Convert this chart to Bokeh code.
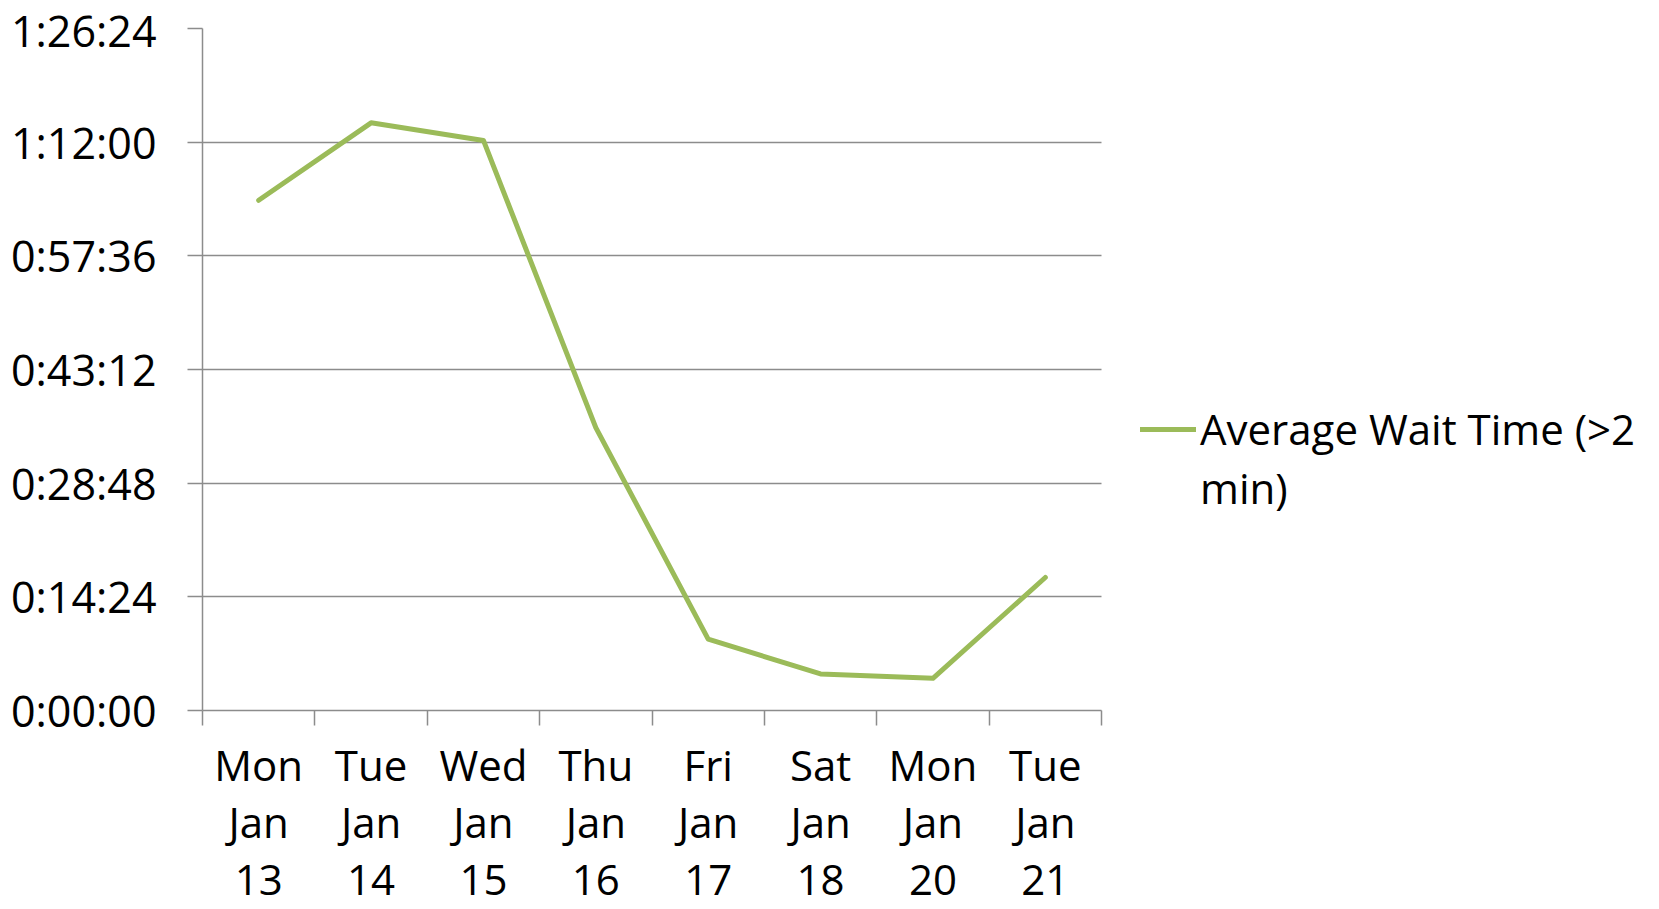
from bokeh.plotting import figure
from bokeh.models import FixedTicker, Legend, LegendItem, Range1d
from bokeh.embed import file_html
from bokeh.resources import INLINE

# Chart data
days = ["Mon\nJan\n13", "Tue\nJan\n14", "Wed\nJan\n15", "Thu\nJan\n16",
        "Fri\nJan\n17", "Sat\nJan\n18", "Mon\nJan\n20", "Tue\nJan\n21"]
avg_wait = ["1:04:38", "1:14:27", "1:12:13", "0:35:50",
            "0:09:03", "0:04:38", "0:04:05", "0:16:51"]
y_tick_labels = ["0:00:00", "0:14:24", "0:28:48", "0:43:12",
                 "0:57:36", "1:12:00", "1:26:24"]
series_lines = ["Average Wait Time (>2", "min)"]


def to_seconds(hms):
    h, m, s = (int(v) for v in hms.split(":"))
    return h * 3600 + m * 60 + s


y_ticks = [to_seconds(t) for t in y_tick_labels]
wait_s = [to_seconds(t) for t in avg_wait]
x_pos = [i + 0.5 for i in range(len(days))]
n = len(days)

FONT = "Open Sans"
FS = "42px"
GRID = "#8c8c8c"
GREEN = "#9bbb59"

# plot area: axes span 899 px, the frame continues to the right edge to hold the legend
W, H = 1659, 909
LEFT, TOP, BOTTOM = 202, 28, 197
AXIS_PX = 899
x_end = n * (W - LEFT) / AXIS_PX

p = figure(width=W, height=H, output_backend="svg", toolbar_location=None,
           x_range=Range1d(0, x_end), y_range=Range1d(0, y_ticks[-1]),
           min_border_left=LEFT, min_border_right=0,
           min_border_top=TOP, min_border_bottom=BOTTOM)
p.outline_line_color = None
p.background_fill_color = "white"
p.border_fill_color = "white"

line = p.line(x_pos, wait_s, line_color=GREEN, line_width=5,
              line_join="round", line_cap="round")
# second legend row carries only the wrapped part of the series name
wrap = p.line([], [], line_alpha=0)

# y axis: time-of-wait ticks
ya = p.yaxis[0]
ya.ticker = FixedTicker(ticks=y_ticks, minor_ticks=[])
ya.major_label_overrides = {t: lbl for t, lbl in zip(y_ticks, y_tick_labels)}
ya.axis_line_color = GRID
ya.axis_line_width = 1.5
ya.major_tick_line_color = GRID
ya.major_tick_line_width = 1.5
ya.major_tick_out = 15
ya.major_tick_in = 0
ya.minor_tick_line_color = None
ya.major_label_standoff = 31
ya.major_label_text_font = FONT
ya.major_label_text_font_size = "43px"
ya.major_label_text_color = "black"

# x axis: labels at category centres, tick marks at category boundaries
xa = p.xaxis[0]
xa.bounds = (0, n)
xa.ticker = FixedTicker(ticks=x_pos, minor_ticks=list(range(n + 1)))
xa.major_label_overrides = {x: d for x, d in zip(x_pos, days)}
xa.axis_line_color = GRID
xa.axis_line_width = 1.5
xa.major_tick_line_color = None
xa.minor_tick_line_color = GRID
xa.minor_tick_line_width = 1.5
xa.minor_tick_out = 15
xa.minor_tick_in = 0
xa.major_label_standoff = 10
xa.major_label_text_font = FONT
xa.major_label_text_font_size = FS
xa.major_label_text_color = "black"
xa.major_label_text_line_height = 1.0

p.xgrid.grid_line_color = None
p.ygrid.grid_line_color = GRID
p.ygrid.grid_line_width = 1.5
p.ygrid.ticker = FixedTicker(ticks=y_ticks)
p.ygrid.cross_bounds = (0, n)

legend = Legend(items=[LegendItem(label=series_lines[0], renderers=[line]),
                       LegendItem(label=series_lines[1], renderers=[wrap])],
                location=(938, 194), orientation="vertical",
                glyph_width=56, glyph_height=20, label_standoff=4,
                padding=0, margin=0, spacing=2,
                border_line_color=None, background_fill_alpha=0,
                label_text_font=FONT, label_text_font_size=FS,
                label_text_color="black")
p.add_layout(legend)

open("out.html", "w").write(file_html(p, INLINE))
